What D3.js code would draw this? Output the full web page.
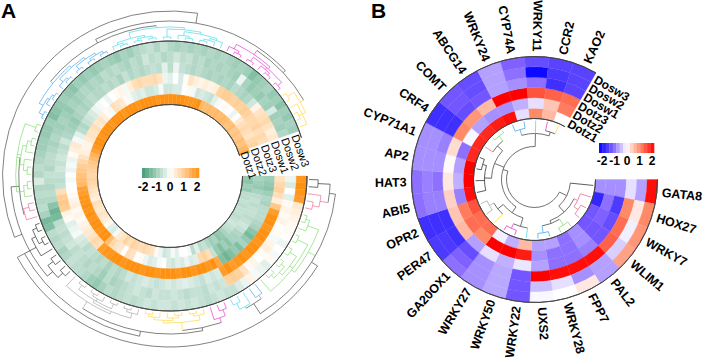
<!DOCTYPE html>
<html lang="en">
<head>
<meta charset="utf-8">
<title>Circular heatmaps</title>
<script src="https://d3js.org/d3.v7.min.js"></script>
<style>
  body { margin: 0; background: #fff; }
  text { font-family: "Liberation Sans", Arial, sans-serif; fill: #000; }
</style>
</head>
<body>
<div class="chart"></div>
<script>
// panel A, one array per ring, inner ring first
const dotz1A = [-1.1,-1.2,-1,-1.1, -0.7,-0.7,-0.6,-0.7, -0.6,-0.6,-0.7,-0.6,-0.5,-0.6,-0.7,-0.9, -1.1,-1.2,-0.9,-1,-0.8, -0.6,-0.7,-0.3,-0.7,-0.1, 0,0.05,-0.3,-0.1,-0.4,
  -0.5,-0.2,0.1,0.5,0.6,0.7,0.6, 0.7,0.8,0.6,0.8,0.5,0.4,-0.1, -0.4,-0.3,0.1,0.3,0.4,0.5, 0.4,0.5,0.6,0.3,0.4,0.5,0.6, 0.7,0.8,0.7,0.8,0.9, 1,1.2,1.4,1.7,
  1.9,2,2,1.9,2,2,2,1.9,2,2,2,1.9,2,2,2,1.9,2,2,2,2,1.9,2,2,2,2,2,2,1.9,1.9,1.9,2, 1.3,1.2,1.3,1.2,1.3,1.2,1.3,1.2, 1.1,1.2,1,1.1,1,1.2,1.1,1.3,1.5];
const dotz2A = [-0.9,-1,-1.1,-0.9, -0.7,-0.6,-0.7,-0.6, -0.6,-0.7,-0.6,-0.5,-0.6,-0.8,-0.9,-0.9, -1.2,-1,-1.3,-1.1,-0.6, 0.6,0.8,0.7,-0.3,-0.4, -0.2,-0.4,-0.3,-0.5,-0.4,
  0,-0.1,-0.3,-0.4,-0.2,0.1,0, 0.5,0.6,0,0.4,0.5,0.7,1.2, 2,2,1.9,2,2,1.9, 2,1.9,2,1.9,1.9,1.8,1.7, 1.3,1.2,1.1,1,0.9, 0.7,0.5,0.3,0.2,
  0.2,0.4,0.5,0.5,0.6,0.4,0.5,0.3,0.1,-0.1, 0.6,0.5,0.4,0.1,-0.1,-0.3,-0.4,-0.3,-0.5, -0.5,-0.4,-0.1,-0.5,-0.5,-0.4,-0.4,0,0.1,-0.1,-0.5, -0.4,-0.5,-0.6,-0.3,-0.1,0,0.1,0, -0.2,0,0.4,0.6,0.7,0.6,0.5,0.7,0.8];
const dotz3A = [-1,-1.1,-1.2,-1, -0.8,-0.9,-0.7,-0.7, -0.7,-0.8,-0.9,-1.2,-1.4,-1.1,-0.9,-1.3, -1.1,-1.3,-1.5,-1.3,1.6, 2,1.9,2,2,1.9, 2,2,1.9,2,2,
  2,1.9,2,2,1.9,2,2, 2,1.9,2,2,1.9,1.9,1.8, 0.6,0.7,0.5,0.4,0.3,0.2, 0.1,0.2,0.1,0.3,0.2,0.1,0, 0,-0.1,0,-0.2,-0.1, -0.2,0.1,0.3,0.4,
  -0.1,-0.3,-0.7,-0.8,-0.6,-0.5,-0.4,-0.2,-0.1,0, -0.2,0,0.1,0.2,-0.1,0.3,0.6,0.7,0.6, 0.6,0.7,0.5,-0.2,-0.3,0,-0.4,0.05,0.5,0.3,0.2, 0.3,0.2,0.3,0.8,0.9,0.9,0.8,0.9, 0.8,0.9,0.8,0.7,0.7,0.8,0.6,0.7,0.6];
const dosw1A = [0.5,0.7,0.8,0.6, 0.3,1,1.8,2, 2,1.9,2,2,1.9,2,2,1.9, 2,1.9,1.8,2,1.8, -0.4,-0.5,-0.4,-0.6,-0.5, -0.4,-0.3,-0.4,-0.5,-0.4,
  -0.5,-0.6,-0.5,-0.4,-0.5,-0.6,-0.5, -0.7,-0.8,-0.7,-0.9,-0.7,-0.8,-0.7, -0.6,-0.7,-0.5,-0.4,-0.1,-0.2, -0.3,0.1,0.2,0.9,1,0.9,0.6, -0.6,-0.7,-0.6,-0.5,-0.6, -0.5,-0.6,-0.7,-0.5,
  -0.8,-0.9,-1,-1.1,-0.9,-0.8,-0.9,-0.8,-0.7,-0.8, -0.8,-0.7,-0.8,-0.7,-0.9,-0.6,-0.8,-0.7,-0.8, -0.7,-0.6,-0.7,-0.3,-0.7,-0.2,-0.6,-0.7,-0.8,-0.7,-0.8, -0.9,-0.8,-0.9,-0.8,-0.9,-0.7,-0.8,-0.9, -0.8,-0.5,0.2,0.5,0.6,0.7,0.5,0.3,0.4];
const dosw2A = [-0.2,-0.4,0,-0.3, 0.1,0.2,0.1,0.2, 0,0.1,-0.1,0.2,0.3,0.1,0,0.2, 0.1,0.5,0.8,0.9,0.8, -0.5,-0.6,-0.5,-0.7,-0.6, -0.6,-0.7,-0.6,-0.5,-0.6,
  -0.6,-0.5,-0.7,-0.6,-0.5,-0.6,-0.7, -0.8,-0.9,-0.7,-1,-0.8,-0.7,-0.8, -0.7,-0.6,-0.7,-0.5,-0.6,-0.7, -0.6,-0.7,-1.4,-1.5,-1.2,-0.8,-0.7, -0.8,-0.7,-0.6,-0.8,-0.7, -0.7,-0.8,-0.9,-0.8,
  -0.9,-1,-0.9,-1,-1.1,-0.9,-1,-0.9,-0.8,-0.9, -0.8,-0.9,-0.7,-0.8,-0.7,-0.8,-0.9,-0.7,-0.8, -0.5,-0.7,-0.6,-0.8,-0.7,-0.5,-0.7,-0.6,-0.8,-0.7,-0.9, -0.8,-0.9,-0.8,-0.9,-1,-0.2,-0.9,-1.1, -1,-1.1,-0.9,-1,-0.4,-1,-0.9,-1,-0.8];
const dosw3A = [1.9,2,1.9,1.8, 0.4,0.3,0.2,0.1, 0.1,0,-0.2,0,-0.1,0.1,-0.3,-0.2, -0.1,0.2,-0.2,-0.4,-0.6, -0.6,-0.5,-0.6,-0.7,-0.6, -0.5,-0.6,-0.5,-0.6,-0.5,
  -0.5,-0.6,-0.5,-0.6,-0.7,-0.6,-0.7, -0.8,-0.7,-0.9,-1.1,-1,-0.8,-0.7, -0.7,-0.6,-0.8,-0.9,-0.7,-0.8, -0.7,-1.3,-1.4,-0.9,-0.7,-0.8,-0.7, -0.8,-0.4,-0.8,-0.7,-0.8, -0.9,-1,-1,-1.1,
  -1.1,-1,-1.3,-1.2,-1.1,-1,-1.1,-1.2,-1,-1.1, -1,-1.1,-1,-0.9,-1,-1.1,-0.9,-1,-0.8, -0.7,-0.6,-0.8,-0.6,-0.8,-0.9,-0.8,-0.9,-0.8,-0.9,-0.8, -0.9,-0.8,-0.9,-1,-0.9,-1,-1.3,-1.1, -1,-0.9,-1.1,-1,-1.2,-1,-1.1,-0.9,-1];
const ringsA = [dotz1A, dotz2A, dotz3A, dosw1A, dosw2A, dosw3A];
const ringNames = ["Dotz1", "Dotz2", "Dotz3", "Dosw1", "Dosw2", "Dosw3"];
const legendTicks = [-2, -1, 0, 1, 2];

// panel B, genes run clockwise from the gap
const genes = ["GATA8","HOX27","WRKY7","WLIM1","PAL2","FPP7","WRKY28","UXS2","WRKY22","WRKY50","WRKY27","GA20OX1","PER47","OPR2","ABI5","HAT3","AP2","CYP71A1","CRF4","COMT","ABCG14","WRKY24","CYP74A","WRKY11","CCR2","KAO2"];
const dotz1B = [-0.7,-1.6,-1.1,-1.1,-0.7,-0.9,-0.6,-0.6,0.6,-0.5,-0.1,1.2,1.2,1.4,1.9,2,2,1.7,1.7,1.7,1.8,1.9,-0.2,1,0.6,0];
const dotz2B = [-0.7,-0.9,-1,-1.1,-0.7,-0.9,-0.9,-0.7,1.8,2,2,1,1.2,1.1,-0.8,-0.5,-0.6,-0.9,-0.05,-0.6,-0.7,-0.7,-0.5,-0.2,0.5,1.1];
const dotz3B = [-0.7,-1.4,-1.2,-1.1,-0.8,-0.9,-0.9,-0.6,-0.15,-0.5,-0.2,-0.6,0.6,0.5,0.4,0.2,0.05,0.3,1,0.9,0.6,2,2,1.4,1.3,1.2];
const dosw1B = [-0.2,1,1.2,1.3,1.9,1.9,1.9,2,-1.1,-0.55,-0.7,-1.2,-1.5,-1.5,-0.8,-0.9,-0.7,-0.8,-1.5,-1.2,-1.1,-0.6,-0.7,-0.9,-1.5,-1.3];
const dosw2B = [-0.6,0.2,-0.1,-0.3,-0.6,-0.7,-0.2,-0.4,-1.1,-0.55,-0.7,-1,-1.4,-1.5,-0.8,-0.8,-0.7,-0.7,-1.5,-1.1,-1.2,-0.6,-0.9,-1.9,-1.4,-1.3];
const dosw3B = [1.9,1,0.9,0.8,-0.6,0.2,0,-0.05,-1.1,-0.55,-0.7,-0.9,-1.4,-1.5,-0.9,-0.9,-0.7,-0.7,-1.5,-1.1,-1.2,-0.6,-1,-1.2,-1.3,-1.3];
const ringsB = [dotz1B, dotz2B, dotz3B, dosw1B, dosw2B, dosw3B];

// dendrogram shapes of panel A, one string per coloured cluster, dot = column
const clusterShapes = ["(..)","(.(..))","(((..).)((..)((..)((..)(..))).))","(..)","(.(..))","((..).)","((.(..))(((..).)(.(..))))",
  "(((.(..))((..)(.(..))(..))).)","((..)(..))","(.((..)(..)))","(.(..))","((.(..))(((..).)(.(..)))(..))",
  "(((..)(.(..)))((.(..))((..)((..)(..)))))","(((.(..))((..)(..)))((..)((.(..))(((..).).))))","((.(..))((..)(.(..))(..)))","((..)(.(..).))"];
const clusterColors = ["black","pink","green","blue","cyan","magenta","yellow","grey","black","black","pink","green","blue","cyan","magenta","yellow"];
const clusterHeights = [146,150,156,148,150,150,147,150,150,150,148,152,148,149,147,148];

// dendrogram of panel B, [height, child, child...], number = gene
const leafColorsB = ["black","pink","pink","pink","green","green","blue","blue","cyan","magenta","magenta","yellow","grey","grey","black","black","black","black","pink","green","green","blue","blue","cyan","magenta","yellow"];
const treeB = [28,[36,0,[44,[48,1,[53,2,3]],[47,[54,4,5],[54,6,7]]]],[33,[40,[49,8,[54,9,10]],[47,11,[52,12,13]]],[43,[50,14,15,[54,16,17]],[50,18,[56,19,20]]],[46,[52,21,22],23,[50,24,25]]]];

const palette = {black:"#333", pink:"#ee6f96", green:"#86dc72", blue:"#4aa8ef", cyan:"#4fdcef", magenta:"#e83ed0", yellow:"#ffd94a", grey:"#aaa"};
const dark = "#4d4d4d";
const rad = d => d * Math.PI / 180;

const svg = d3.select(".chart").append("svg").attr("width", 706).attr("height", 358).style("display", "block");

const colorA = d3.scaleLinear().domain([-2, 0, 2]).range(["#3f9c72", "#ffffff", "#ff9112"]).clamp(true);
const colorB = d3.scaleLinear().domain([-2, -1, 0, 1, 2]).range(["#0000ff", "#8060ff", "#ffffff", "#ff8a68", "#ff0000"]).clamp(true);

function heat(g, rings, color, angle, radius) {
  const arc = d3.arc();
  rings.forEach((ring, i) => {
    g.append("g").selectAll("path").data(ring).join("path")
      .attr("d", (d, j) => arc({innerRadius: radius(i), outerRadius: radius(i + 1), startAngle: rad(angle(j)), endAngle: rad(angle(j + 1))}))
      .attr("fill", d => color(d))
      .attr("stroke", d => color(d))
      .attr("stroke-width", 0.3);
  });
  const a0 = rad(angle(0)), a1 = rad(angle(rings[0].length));
  [radius(0), radius(6)].forEach(r => {
    g.append("path").attr("d", arc({innerRadius: r, outerRadius: r, startAngle: a0, endAngle: a1}))
      .attr("fill", "none").attr("stroke", "#444").attr("stroke-width", 0.9);
  });
}

// tree helpers
function join(r, kids) {
  const as = kids.map(k => k.a);
  const cols = new Set(kids.map(k => k.color));
  return {r: r, children: kids, a: (d3.min(as) + d3.max(as)) / 2, color: cols.size === 1 ? kids[0].color : dark};
}

function drawTree(g, node, width) {
  if (!node.children) return;
  const as = node.children.map(k => k.a);
  const p = d3.path();
  p.arc(0, 0, node.r, rad(d3.min(as) - 90), rad(d3.max(as) - 90));
  g.append("path").attr("d", p.toString()).attr("fill", "none").attr("stroke", node.color).attr("stroke-width", width);
  node.children.forEach(k => {
    const q = d3.path();
    const from = d3.pointRadial(rad(k.a), k.r), to = d3.pointRadial(rad(k.a), node.r);
    q.moveTo(from[0], from[1]);
    q.lineTo(to[0], to[1]);
    g.append("path").attr("d", q.toString()).attr("fill", "none").attr("stroke", k.color).attr("stroke-width", width);
    drawTree(g, k, width);
  });
}

function parseShape(s) {
  const stack = [{children: []}];
  for (const c of s) {
    if (c === "(") { const n = {children: []}; stack[stack.length - 1].children.push(n); stack.push(n); }
    else if (c === ")") stack.pop();
    else stack[stack.length - 1].children.push({});
  }
  return stack[0].children[0];
}

// Panel A
const angleA = d3.scaleLinear().domain([0, 114]).range([90, 430.5]);
const radiusA = d3.scaleLinear().domain([0, 6]).range([71.5, 135]);
const gA = svg.append("g").attr("transform", "translate(170,176) scale(1.015,1)");
heat(gA, ringsA, colorA, angleA, radiusA);

let nextCol = 0;
const clusters = clusterShapes.map((shape, i) => {
  const root = d3.hierarchy(parseShape(shape));
  const leafR = 137;
  root.eachAfter(n => {
    n.color = palette[clusterColors[i]];
    n.r = leafR + (clusterHeights[i] - leafR) * n.height / root.height;
    if (n.children) {
      const as = n.children.map(k => k.a);
      n.a = (d3.min(as) + d3.max(as)) / 2;
    } else {
      n.a = angleA(nextCol + 0.5);
      nextCol++;
    }
  });
  return root;
});

const [c0, c1, c2, c3, c4, c5, c6, c7, c8a, c8b, c9, c10, c11, c12, c13, c14] = clusters;
const topB = join(157, [join(149, [c9, c10]), c8a]);
const topN = join(155, [join(151, [c11, c12]), join(152, [c13, c14])]);
const top1 = join(165, [topB, topN]);
const topG = join(158, [join(155, [c5, c6]), c7]);
const topX = join(163, [topG, c8b]);
topX.a = d3.max(topX.children, k => k.a);
const topA = join(164, [join(158, [c0, c1]), c2, join(152, [c3, c4])]);
const top2 = join(171, [topA, topX]);
const gTreeA = gA.append("g");
drawTree(gTreeA, top1, 0.7);
drawTree(gTreeA, top2, 0.7);

// ring names at the gap of A
ringNames.forEach((name, i) => {
  const p = d3.pointRadial(rad(71.5), radiusA(i + 0.5));
  svg.append("text")
    .attr("transform", `translate(${170 + p[0] * 1.015},${176 + p[1]}) rotate(70.5)`)
    .attr("dy", "0.35em")
    .attr("font-size", 11)
    .text(name);
});

function legend(color, x0, x1, barX0, barX1, barY, barH, labelY, size) {
  const x = d3.scaleLinear().domain([-2, 2]).range([x0, x1]);
  const bar = d3.scaleLinear().domain([-2, 2]).range([barX0, barX1]);
  const steps = d3.range(-2, 2, 0.25);
  svg.append("g").selectAll("rect").data(steps).join("rect")
    .attr("x", d => bar(d))
    .attr("y", barY)
    .attr("width", d => bar(d + 0.25) - bar(d) + 0.3)
    .attr("height", barH)
    .attr("fill", d => color(d + 0.125));
  svg.append("g").selectAll("text").data(legendTicks).join("text")
    .attr("x", d => x(d))
    .attr("y", labelY)
    .attr("text-anchor", "middle")
    .attr("font-size", size)
    .attr("font-weight", "bold")
    .text(d => d);
}
legend(colorA, 143, 197, 142, 199, 168, 10, 191, 12);

svg.append("text").attr("x", 1).attr("y", 18).attr("font-size", 21).attr("font-weight", "bold").text("A");
svg.append("text").attr("x", 371).attr("y", 18).attr("font-size", 21).attr("font-weight", "bold").text("B");

// Panel B
const angleB = d3.scaleLinear().domain([0, 26]).range([90, 390]);
const radiusB = d3.scaleLinear().domain([0, 6]).range([61, 123]);
const gB = svg.append("g").attr("transform", "translate(534.5,179.5)");
heat(gB, ringsB, colorB, angleB, radiusB);

function buildB(t) {
  if (typeof t === "number") return {r: 59, a: angleB(t + 0.5), color: palette[leafColorsB[t]]};
  return join(t[0], t.slice(1).map(buildB));
}
drawTree(gB.append("g"), buildB(treeB), 0.8);

genes.forEach((name, i) => {
  const a = angleB(i + 0.5);
  const p = d3.pointRadial(rad(a), 128);
  const flip = a > 180 && a < 365;
  gB.append("text")
    .attr("transform", `translate(${p[0]},${p[1]}) rotate(${flip ? a + 90 : a - 90})`)
    .attr("dy", "0.35em")
    .attr("text-anchor", flip ? "end" : "start")
    .attr("font-size", 12.5)
    .attr("font-weight", "bold")
    .text(name);
});

ringNames.forEach((name, i) => {
  const p = d3.pointRadial(rad(31), radiusB(i + 0.5));
  gB.append("text")
    .attr("transform", `translate(${p[0]},${p[1]}) rotate(30)`)
    .attr("dy", "0.35em")
    .attr("font-size", 12)
    .attr("font-weight", "bold")
    .text(name);
});

legend(colorB, 602, 652, 599, 654, 143, 10, 165, 12);
</script>
</body>
</html>
